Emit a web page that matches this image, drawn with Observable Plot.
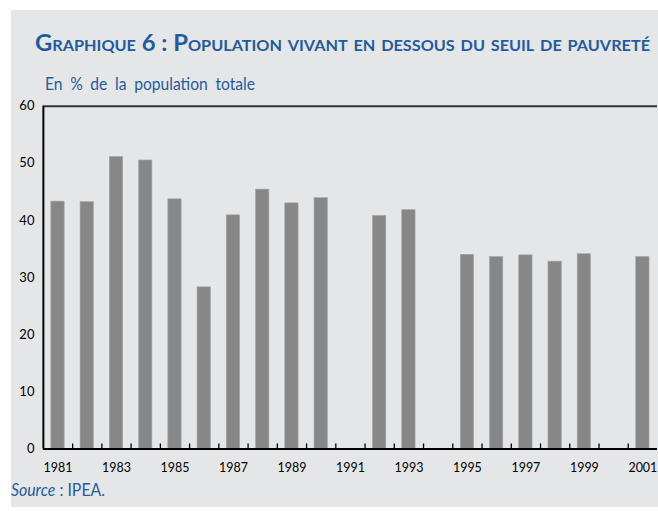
<!DOCTYPE html>
<html><head><meta charset="utf-8">
<script src="https://cdn.jsdelivr.net/npm/d3@7"></script>
<script src="https://cdn.jsdelivr.net/npm/@observablehq/plot@0.6"></script>
<style>
html,body{margin:0;padding:0;background:#fff;overflow:hidden;width:658px;height:511px;}
#panel{position:absolute;left:11px;top:10px;width:647px;height:497px;background:#e5e6e8;}
.t{position:absolute;white-space:nowrap;transform-origin:0 0;color:#1f5b9d;font-family:Lato,"Open Sans",sans-serif;}
#title{left:35px;top:29px;font-size:22px;font-weight:bold;font-variant:small-caps;}
#subtitle{left:45px;top:73px;font-size:17px;word-spacing:4px;}
#source{left:11px;top:479px;font-size:17px;}
#chart{position:absolute;left:0;top:0;}
</style></head>
<body>
<div id="panel"></div>
<div id="title" class="t">Graphique 6 : Population vivant en dessous du seuil de pauvreté</div>
<div id="subtitle" class="t">En % de la population totale</div>
<div id="chart"></div>
<div id="source" class="t"><i>Source</i> : IPEA.</div>
<script>
const years = [1981,1982,1983,1984,1985,1986,1987,1988,1989,1990,1992,1993,1995,1996,1997,1998,1999,2001];
const values = [43.3,43.2,51.1,50.5,43.7,28.3,40.9,45.4,43.0,43.9,40.8,41.8,34.0,33.6,33.9,32.8,34.1,33.6];
const allYears = d3.range(1981, 2002);
const labelYears = [1981,1983,1985,1987,1989,1991,1993,1995,1997,1999,2001];
const yTicks = [0,10,20,30,40,50,60];

const data = years.map((year, i) => ({year, value: values[i]}));
const boundaries = allYears.slice(1).map(y => y - 0.5);

const chart = Plot.plot({
  width: 660,
  height: 485,
  marginLeft: 43,
  marginRight: 1,
  marginTop: 106,
  marginBottom: 35,
  style: {background: "transparent", fontFamily: "Lato, 'Open Sans', sans-serif", fontSize: "13px", color: "#000", overflow: "visible"},
  x: {domain: [1980.5, 2001.5], axis: null, label: null},
  y: {domain: [0, 60], axis: null, label: null},
  marks: [
    Plot.rectY(data, {x1: d => d.year - 0.5, x2: d => d.year + 0.5, y: "value", insetLeft: 8, insetRight: 8, fill: "#878787", stroke: "#a3a3a3", strokeWidth: 0.6}),
    Plot.ruleY([60], {stroke: "#333", strokeWidth: 2}),
    Plot.ruleX(boundaries, {x: d => d, y1: 0, y2: 0.9, stroke: "#000", strokeWidth: 1.3}),
    Plot.ruleY([0], {stroke: "#000", strokeWidth: 2}),
    Plot.ruleX([1980.5], {stroke: "#000", strokeWidth: 2}),
    Plot.axisY({ticks: yTicks, tickSize: 0, tickPadding: 9, fontSize: 13, label: null}),
    Plot.axisX({ticks: labelYears, tickSize: 0, tickPadding: 14, tickFormat: d => String(d), fontSize: 12.5, label: null})
  ]
});
document.getElementById("chart").appendChild(chart);

function fit(id, w) {
  const el = document.getElementById(id);
  const cw = el.getBoundingClientRect().width;
  el.style.transform = `scaleX(${w / cw})`;
}
fit("title", 615);
fit("subtitle", 210);
fit("source", 94);
</script>
</body></html>
